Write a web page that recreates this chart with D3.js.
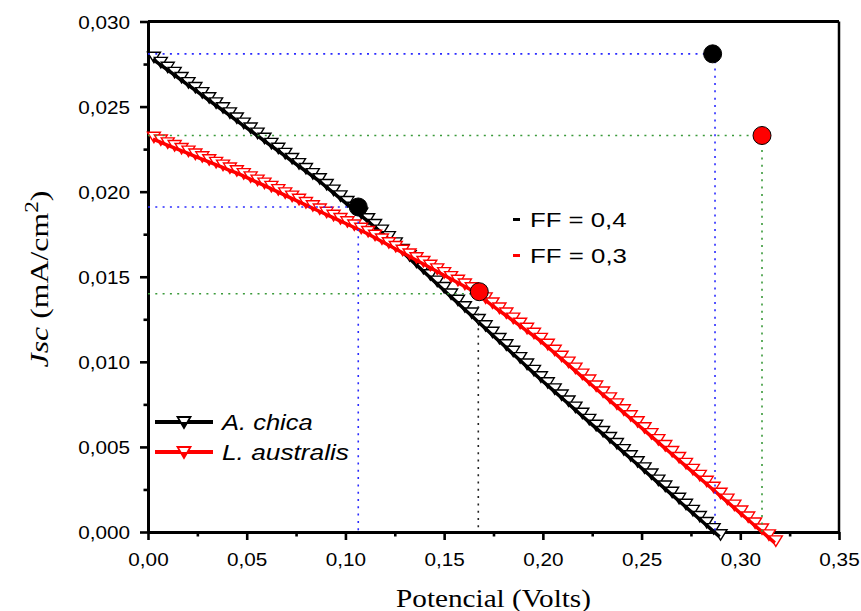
<!DOCTYPE html>
<html>
<head>
<meta charset="utf-8">
<script src="https://cdn.jsdelivr.net/npm/d3@7"></script>
<style>
  html, body { margin: 0; padding: 0; background: #ffffff; }
  svg { display: block; }
</style>
</head>
<body>
<script>
// ---------------- DATA ----------------
const voltage = [0.003, 0.0065, 0.010, 0.0135, 0.017, 0.0205, 0.024, 0.0275, 0.031, 0.0345,
  0.038, 0.0415, 0.045, 0.0485, 0.052, 0.0555, 0.059, 0.0625, 0.066, 0.0695,
  0.073, 0.0765, 0.080, 0.0835, 0.087, 0.0905, 0.094, 0.0975, 0.101, 0.1045,
  0.108, 0.1115, 0.115, 0.1185, 0.122, 0.1255, 0.129, 0.1325, 0.136, 0.1395,
  0.143, 0.1465, 0.150, 0.1535, 0.157, 0.1605, 0.164, 0.1675, 0.171, 0.1745,
  0.178, 0.1815, 0.185, 0.1885, 0.192, 0.1955, 0.199, 0.2025, 0.206, 0.2095,
  0.213, 0.2165, 0.220, 0.2235, 0.227, 0.2305, 0.234, 0.2375, 0.241, 0.2445,
  0.248, 0.2515, 0.255, 0.2585, 0.262, 0.2655, 0.269, 0.2725, 0.276, 0.2795,
  0.283, 0.2865, 0.290, 0.2935, 0.297, 0.3005, 0.304, 0.3075, 0.311, 0.3145, 0.318];

// A. chica (black) current density, mA/cm2
const jscAChica = [0.02790, 0.02760, 0.02731, 0.02701, 0.02671, 0.02641, 0.02612, 0.02582, 0.02552, 0.02522,
  0.02493, 0.02463, 0.02433, 0.02403, 0.02374, 0.02344, 0.02314, 0.02284, 0.02255, 0.02225,
  0.02195, 0.02165, 0.02136, 0.02106, 0.02076, 0.02042, 0.02009, 0.01975, 0.01942, 0.01908,
  0.01874, 0.01841, 0.01807, 0.01774, 0.01736, 0.01699, 0.01661, 0.01624, 0.01586, 0.01549,
  0.01512, 0.01474, 0.01437, 0.01399, 0.01362, 0.01324, 0.01287, 0.01249, 0.01212, 0.01174,
  0.01137, 0.01100, 0.01062, 0.01025, 0.00987, 0.00950, 0.00912, 0.00877, 0.00841, 0.00805,
  0.00770, 0.00734, 0.00698, 0.00662, 0.00627, 0.00591, 0.00555, 0.00520, 0.00484, 0.00448,
  0.00413, 0.00377, 0.00341, 0.00305, 0.00270, 0.00234, 0.00198, 0.00163, 0.00127, 0.00091,
  0.00056, 0.00020, -0.00016];

// L. australis (red) current density, mA/cm2
const jscLAustralis = [0.02320, 0.02304, 0.02287, 0.02271, 0.02254, 0.02238, 0.02221, 0.02205, 0.02188, 0.02172,
  0.02156, 0.02139, 0.02123, 0.02106, 0.02087, 0.02068, 0.02050, 0.02031, 0.02012, 0.01993,
  0.01974, 0.01955, 0.01936, 0.01917, 0.01898, 0.01879, 0.01861, 0.01842, 0.01823, 0.01804,
  0.01785, 0.01766, 0.01744, 0.01722, 0.01700, 0.01678, 0.01656, 0.01634, 0.01612, 0.01590,
  0.01568, 0.01546, 0.01524, 0.01501, 0.01479, 0.01457, 0.01435, 0.01406, 0.01376, 0.01346,
  0.01316, 0.01287, 0.01257, 0.01227, 0.01197, 0.01168, 0.01138, 0.01103, 0.01068, 0.01033,
  0.00998, 0.00963, 0.00928, 0.00893, 0.00858, 0.00823, 0.00788, 0.00753, 0.00718, 0.00683,
  0.00648, 0.00613, 0.00578, 0.00543, 0.00508, 0.00473, 0.00438, 0.00403, 0.00368, 0.00333,
  0.00298, 0.00263, 0.00228, 0.00193, 0.00158, 0.00123, 0.00088, 0.00053, 0.00018, -0.00017, -0.00052];

const seriesNames = ["A. chica", "L. australis"];
const seriesColors = ["#000000", "#ff0000"];

// Marked points: [max-power point on curve] and [Voc x Jsc reference point]
const mpV = [0.1065, 0.1678];
const mpJ = [0.0191, 0.01412];
const refV = [0.2860, 0.3110];
const refJ = [0.0281, 0.0233];
const ffLabels = ["FF = 0,4", "FF = 0,3"];

const xTickValues = [0, 0.05, 0.10, 0.15, 0.20, 0.25, 0.30, 0.35];
const xTickLabels = ["0,00", "0,05", "0,10", "0,15", "0,20", "0,25", "0,30", "0,35"];
const yTickValues = [0, 0.005, 0.010, 0.015, 0.020, 0.025, 0.030];
const yTickLabels = ["0,000", "0,005", "0,010", "0,015", "0,020", "0,025", "0,030"];
const xMinor = [0.025, 0.075, 0.125, 0.175, 0.225, 0.275, 0.325];
const yMinor = [0.0025, 0.0075, 0.0125, 0.0175, 0.0225, 0.0275];

// ---------------- CHART ----------------
const W = 861, H = 611;
const L = 148, R = 839, T = 21.5, B = 532;
const svg = d3.select("body").append("svg").attr("width", W).attr("height", H);
const x = d3.scaleLinear().domain([0, 0.35]).range([L, R]);
const y = d3.scaleLinear().domain([0, 0.03]).range([B, T]);

const SANS = "'Liberation Sans', Arial, sans-serif";
const SERIF = "'Liberation Serif', 'Times New Roman', serif";

function fit(sel, w) {
  const n = sel.node().getBBox().width;
  return n > 0 ? w / n : 1;
}

// frame (top & right)
svg.append("line").attr("x1", L).attr("x2", R).attr("y1", T).attr("y2", T)
  .attr("stroke", "#000").attr("stroke-width", 3);
svg.append("line").attr("x1", R).attr("x2", R).attr("y1", T).attr("y2", B)
  .attr("stroke", "#000").attr("stroke-width", 2.5);

// axes
const gx = svg.append("g").attr("transform", `translate(0,${B})`)
  .call(d3.axisBottom(x).tickValues(xTickValues).tickSize(8).tickSizeOuter(0)
    .tickFormat((d, i) => xTickLabels[i]));
const gxm = svg.append("g").attr("transform", `translate(0,${B})`)
  .call(d3.axisBottom(x).tickValues(xMinor).tickSize(4.5).tickSizeOuter(0).tickFormat(""));
const gy = svg.append("g").attr("transform", `translate(${L},0)`)
  .call(d3.axisLeft(y).tickValues(yTickValues).tickSize(8).tickSizeOuter(0)
    .tickFormat((d, i) => yTickLabels[i]));
const gym = svg.append("g").attr("transform", `translate(${L},0)`)
  .call(d3.axisLeft(y).tickValues(yMinor).tickSize(4.5).tickSizeOuter(0).tickFormat(""));

[gx, gxm, gy, gym].forEach(g => {
  g.select(".domain").attr("stroke", "#000").attr("stroke-width", 3);
  g.selectAll(".tick line").attr("stroke", "#000").attr("stroke-width", 2.6);
});
gx.selectAll(".tick text").attr("y", 34).attr("dy", 0)
  .attr("font-family", SANS).attr("font-size", 18.5).attr("fill", "#000")
  .attr("transform", "scale(1.12,1)");
gy.selectAll(".tick text").attr("x", -16).attr("dy", "0.36em")
  .attr("font-family", SANS).attr("font-size", 18.5).attr("fill", "#000")
  .attr("transform", "scale(1.12,1)");

// axis titles
const xt = svg.append("text").attr("text-anchor", "middle")
  .attr("font-family", SERIF).attr("font-size", 25).attr("fill", "#000")
  .text("Potencial (Volts)");
xt.attr("transform", `translate(${(L + R) / 2},606.5) scale(${fit(xt, 195)},1)`);

const yt = svg.append("text").attr("text-anchor", "middle")
  .attr("font-family", SERIF).attr("font-size", 26).attr("fill", "#000");
yt.append("tspan").attr("font-style", "italic").text("Jsc");
yt.append("tspan").text(" (mA/cm");
yt.append("tspan").attr("font-size", 19).attr("dy", -10).text("2");
yt.append("tspan").attr("dy", 10).text(")");
yt.attr("transform", `translate(48,279) rotate(-90) scale(${fit(yt, 177)},1)`);

// curves
const tri = "M-6.5,-5L6.5,-5L0,5.5Z";
const series = [
  { name: seriesNames[0], color: seriesColors[0], light: "#808080", J: jscAChica },
  { name: seriesNames[1], color: seriesColors[1], light: "#ff8080", J: jscLAustralis }
];
const line = d3.line().x(d => x(d[0])).y(d => y(d[1]));
series.forEach(s => {
  const pts = s.J.map((j, i) => [voltage[i], j]);
  const g = svg.append("g");
  g.selectAll("path.m").data(pts).join("path").attr("class", "m")
    .attr("d", tri)
    .attr("transform", d => `translate(${x(d[0])},${y(d[1])})`)
    .attr("fill", "#fff").attr("stroke", s.color).attr("stroke-width", 1.4);
  // connecting line over the lower half of the symbols
  g.append("path").attr("d", line(pts.map(p => p))).attr("fill", "none")
    .attr("transform", "translate(-1,2)")
    .attr("stroke", s.color).attr("stroke-width", 3.5);
});

// dotted guide lines
function guide(x1, y1, x2, y2, color) {
  svg.append("line").attr("x1", x(x1)).attr("y1", y(y1)).attr("x2", x(x2)).attr("y2", y(y2))
    .attr("stroke", color).attr("stroke-width", 1.6).attr("stroke-dasharray", "2,5.3");
}
const BLUE = "#2a2aff", GREEN = "#3a9a3a";
guide(0, refJ[0], refV[0], refJ[0], BLUE);
guide(refV[0] + 0.0012, refJ[0], refV[0] + 0.0012, 0, BLUE);
guide(0, mpJ[0], mpV[0], mpJ[0], BLUE);
guide(mpV[0], mpJ[0], mpV[0], 0, BLUE);
guide(0, refJ[1], refV[1], refJ[1], GREEN);
guide(refV[1], refJ[1], refV[1], 0, GREEN);
guide(0, 0.0140, mpV[1], 0.0140, GREEN);
guide(mpV[1] - 0.0005, mpJ[1], mpV[1] - 0.0005, 0, "#222");

// marked dots
series.forEach((s, k) => {
  [[mpV[k], mpJ[k]], [refV[k], refJ[k]]].forEach(p => {
    svg.append("circle").attr("cx", x(p[0])).attr("cy", y(p[1])).attr("r", 9)
      .attr("fill", s.color).attr("stroke", "#000").attr("stroke-width", 1);
  });
});

// FF annotations
const ffBase = [227, 263];
ffLabels.forEach((t, k) => {
  svg.append("rect").attr("x", 513).attr("y", ffBase[k] - 9).attr("width", 7).attr("height", 3)
    .attr("fill", seriesColors[k]);
  const tx = svg.append("text").attr("font-family", SANS).attr("font-size", 21)
    .attr("fill", "#000").text(t);
  tx.attr("transform", `translate(530,${ffBase[k]}) scale(${fit(tx, 97)},1)`);
});

// legend
const legY = [422, 452];
const legW = [93, 127];
series.forEach((s, k) => {
  svg.append("line").attr("x1", 155).attr("x2", 213).attr("y1", legY[k]).attr("y2", legY[k])
    .attr("stroke", s.color).attr("stroke-width", 4);
  svg.append("path").attr("d", "M-6.5,-5L6.5,-5L0,6Z")
    .attr("transform", `translate(184,${legY[k]})`)
    .attr("fill", "#fff").attr("stroke", s.color).attr("stroke-width", 1.8);
  svg.append("path").attr("d", "M-3.5,0L3.5,0L0,6Z")
    .attr("transform", `translate(184,${legY[k]})`)
    .attr("fill", s.color);
  const tx = svg.append("text").attr("font-family", SANS).attr("font-size", 22)
    .attr("font-style", "italic").attr("fill", "#000").text(s.name);
  tx.attr("transform", `translate(222,${legY[k] + 7.5}) scale(${fit(tx, legW[k])},1)`);
});
</script>
</body>
</html>
